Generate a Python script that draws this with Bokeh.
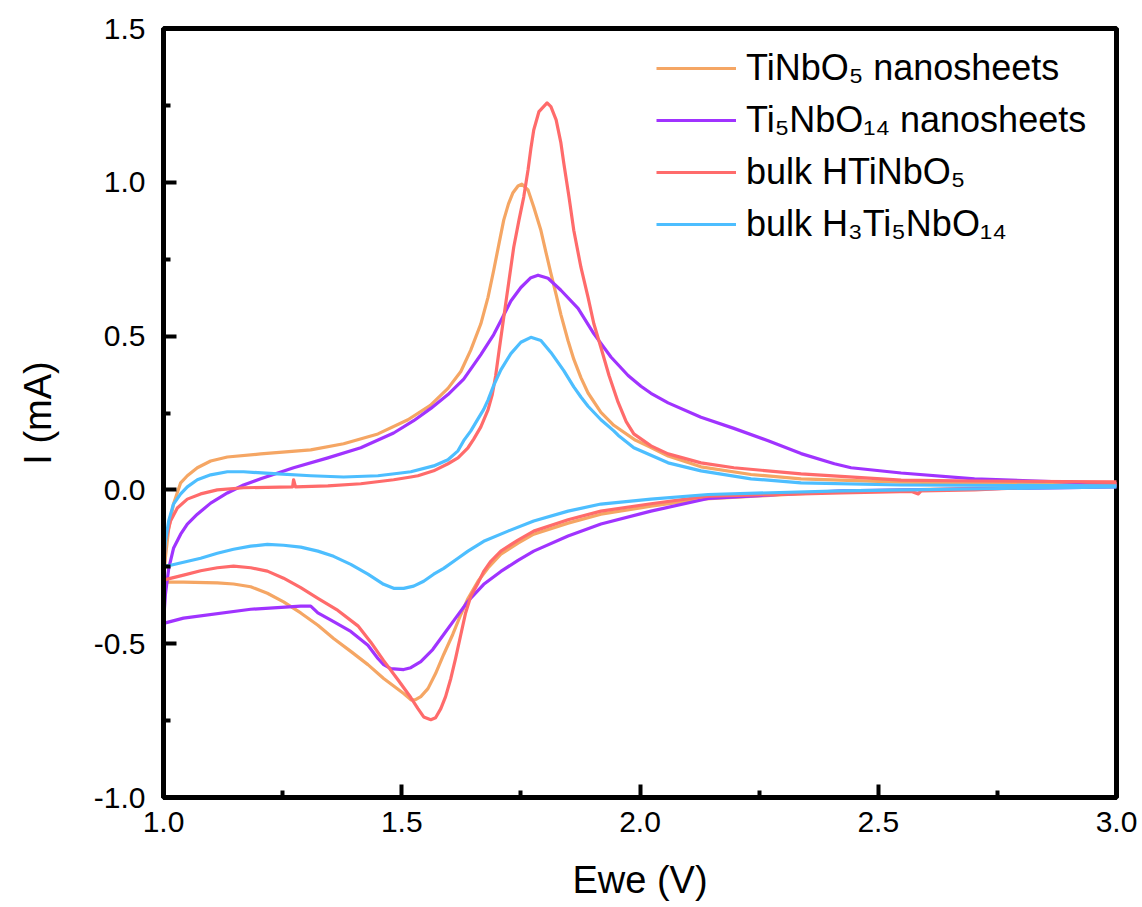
from bokeh.plotting import figure
from bokeh.models import Range1d, FixedTicker, PrintfTickFormatter, Legend, LegendItem
from bokeh.embed import file_html
from bokeh.resources import INLINE

# ---- data ----
# TiNbO5 nanosheets: anodic (forward) and cathodic (reverse) sweeps
tinbo5_an_v = [1.000, 1.004, 1.011, 1.021, 1.036, 1.050, 1.071, 1.099, 1.134, 1.204, 1.309, 1.378, 1.450,
               1.513, 1.560, 1.597, 1.624, 1.645, 1.666, 1.681, 1.693, 1.704, 1.714, 1.724, 1.733, 1.744,
               1.752, 1.765, 1.777, 1.792, 1.803, 1.813, 1.824, 1.834, 1.849, 1.861, 1.876, 1.891, 1.918,
               1.945, 1.990, 2.020, 2.059, 2.128, 2.233, 2.338, 2.548, 2.800, 3.000]
tinbo5_an_i = [-0.300, -0.220, -0.124, -0.046, 0.023, 0.046, 0.072, 0.094, 0.107, 0.117, 0.130, 0.150, 0.182,
               0.228, 0.275, 0.330, 0.385, 0.455, 0.540, 0.626, 0.714, 0.800, 0.877, 0.930, 0.965, 0.988,
               0.994, 0.975, 0.920, 0.844, 0.770, 0.704, 0.635, 0.570, 0.485, 0.425, 0.365, 0.315, 0.252,
               0.210, 0.162, 0.140, 0.110, 0.075, 0.050, 0.036, 0.025, 0.021, 0.020]
tinbo5_ca_v = [3.000, 2.700, 2.422, 2.128, 2.023, 1.918, 1.849, 1.777, 1.744, 1.708, 1.681, 1.660, 1.639,
               1.624, 1.607, 1.588, 1.571, 1.555, 1.540, 1.529, 1.520, 1.504, 1.462, 1.429, 1.393, 1.357,
               1.324, 1.288, 1.252, 1.218, 1.183, 1.147, 1.113, 1.042, 1.000]
tinbo5_ca_i = [0.015, 0.005, -0.005, -0.030, -0.053, -0.079, -0.108, -0.144, -0.173, -0.209, -0.254, -0.297,
               -0.353, -0.405, -0.470, -0.535, -0.597, -0.646, -0.672, -0.682, -0.683, -0.662, -0.613, -0.568,
               -0.525, -0.483, -0.440, -0.400, -0.364, -0.336, -0.315, -0.306, -0.302, -0.300, -0.300]

# Ti5NbO14 nanosheets
ti5nbo14_an_v = [1.000, 1.004, 1.011, 1.021, 1.036, 1.050, 1.071, 1.099, 1.134, 1.168, 1.204, 1.273, 1.345,
                 1.414, 1.483, 1.525, 1.561, 1.597, 1.630, 1.666, 1.693, 1.708, 1.729, 1.750, 1.771, 1.786,
                 1.807, 1.834, 1.870, 1.903, 1.939, 1.975, 2.002, 2.023, 2.059, 2.128, 2.197, 2.269, 2.338,
                 2.408, 2.443, 2.548, 2.702, 3.000]
ti5nbo14_an_i = [-0.431, -0.340, -0.255, -0.190, -0.144, -0.111, -0.079, -0.043, -0.010, 0.016, 0.036, 0.072,
                 0.104, 0.137, 0.185, 0.225, 0.265, 0.310, 0.360, 0.440, 0.505, 0.550, 0.614, 0.658, 0.690,
                 0.698, 0.688, 0.649, 0.590, 0.508, 0.432, 0.372, 0.337, 0.314, 0.283, 0.236, 0.200, 0.160,
                 0.118, 0.085, 0.072, 0.055, 0.036, 0.020]
ti5nbo14_ca_v = [3.000, 2.422, 2.143, 2.023, 1.918, 1.849, 1.777, 1.744, 1.708, 1.672, 1.639, 1.613, 1.588,
                 1.565, 1.540, 1.519, 1.504, 1.477, 1.462, 1.450, 1.429, 1.393, 1.357, 1.324, 1.309, 1.288,
                 1.183, 1.042, 1.000]
ti5nbo14_ca_i = [0.010, -0.003, -0.028, -0.069, -0.111, -0.150, -0.199, -0.229, -0.265, -0.307, -0.362, -0.417,
                 -0.470, -0.519, -0.558, -0.578, -0.584, -0.581, -0.568, -0.548, -0.505, -0.460, -0.428, -0.400,
                 -0.378, -0.378, -0.388, -0.417, -0.434]

# bulk HTiNbO5
htinbo5_an_v = [1.000, 1.000, 1.004, 1.015, 1.029, 1.050, 1.078, 1.113, 1.168, 1.271, 1.273, 1.277, 1.345,
                1.414, 1.483, 1.519, 1.534, 1.567, 1.597, 1.618, 1.639, 1.651, 1.666, 1.681, 1.690, 1.697,
                1.704, 1.714, 1.725, 1.735, 1.746, 1.756, 1.765, 1.771, 1.777, 1.788, 1.805, 1.813, 1.824,
                1.834, 1.840, 1.851, 1.861, 1.876, 1.891, 1.903, 1.918, 1.935, 1.954, 1.971, 1.987, 2.023,
                2.059, 2.128, 2.197, 2.338, 2.548, 2.702, 3.000]
htinbo5_an_i = [-0.294, -0.255, -0.167, -0.100, -0.059, -0.030, -0.013, 0.000, 0.007, 0.010, 0.033, 0.010,
                0.013, 0.020, 0.033, 0.042, 0.046, 0.062, 0.085, 0.104, 0.137, 0.165, 0.205, 0.260, 0.310,
                0.370, 0.450, 0.560, 0.680, 0.789, 0.877, 0.952, 1.040, 1.110, 1.170, 1.230, 1.258, 1.246,
                1.203, 1.128, 1.063, 0.952, 0.844, 0.724, 0.626, 0.541, 0.463, 0.372, 0.285, 0.222, 0.182,
                0.143, 0.117, 0.088, 0.072, 0.052, 0.032, 0.029, 0.026]
htinbo5_ca_v = [3.000, 2.702, 2.590, 2.584, 2.570, 2.422, 2.143, 2.023, 1.918, 1.849, 1.777, 1.744, 1.708,
                1.687, 1.672, 1.660, 1.645, 1.634, 1.624, 1.613, 1.603, 1.592, 1.582, 1.571, 1.561, 1.546,
                1.534, 1.519, 1.492, 1.462, 1.435, 1.408, 1.366, 1.324, 1.288, 1.252, 1.218, 1.183, 1.147,
                1.113, 1.078, 1.042, 1.008, 1.000]
htinbo5_ca_i = [0.020, 0.000, -0.003, -0.013, -0.005, -0.010, -0.020, -0.045, -0.069, -0.097, -0.134, -0.163,
                -0.199, -0.232, -0.265, -0.303, -0.345, -0.400, -0.470, -0.548, -0.613, -0.672, -0.711, -0.741,
                -0.747, -0.738, -0.711, -0.675, -0.617, -0.555, -0.495, -0.442, -0.392, -0.353, -0.318, -0.287,
                -0.264, -0.253, -0.248, -0.253, -0.263, -0.277, -0.290, -0.294]

# bulk H3Ti5NbO14
h3ti5nbo14_an_v = [1.000, 1.004, 1.011, 1.021, 1.036, 1.050, 1.071, 1.099, 1.134, 1.168, 1.240, 1.309, 1.378,
                   1.450, 1.498, 1.519, 1.567, 1.597, 1.618, 1.630, 1.645, 1.660, 1.672, 1.681, 1.693, 1.708,
                   1.729, 1.750, 1.771, 1.792, 1.813, 1.840, 1.861, 1.876, 1.891, 1.918, 1.945, 1.954, 1.987,
                   2.059, 2.128, 2.233, 2.338, 2.548, 3.000]
h3ti5nbo14_an_i = [-0.248, -0.167, -0.100, -0.046, -0.013, 0.010, 0.033, 0.049, 0.059, 0.059, 0.052, 0.046,
                   0.042, 0.046, 0.055, 0.059, 0.078, 0.098, 0.127, 0.160, 0.192, 0.231, 0.262, 0.292, 0.340,
                   0.390, 0.443, 0.480, 0.496, 0.486, 0.447, 0.388, 0.335, 0.302, 0.272, 0.228, 0.192, 0.178,
                   0.137, 0.088, 0.062, 0.036, 0.023, 0.016, 0.013]
h3ti5nbo14_ca_v = [3.000, 2.422, 2.143, 2.023, 1.918, 1.849, 1.777, 1.723, 1.672, 1.639, 1.618, 1.588, 1.567,
                   1.546, 1.525, 1.504, 1.483, 1.462, 1.429, 1.393, 1.357, 1.324, 1.288, 1.252, 1.218, 1.183,
                   1.147, 1.113, 1.078, 1.042, 1.015, 1.000]
h3ti5nbo14_ca_i = [0.010, -0.003, -0.015, -0.030, -0.046, -0.069, -0.101, -0.134, -0.167, -0.199, -0.222, -0.255,
                   -0.274, -0.297, -0.313, -0.320, -0.320, -0.307, -0.274, -0.242, -0.216, -0.199, -0.186, -0.180,
                   -0.177, -0.183, -0.193, -0.206, -0.222, -0.235, -0.245, -0.248]

labels = ["TiNbO\u2085 nanosheets", "Ti\u2085NbO\u2081\u2084 nanosheets", "bulk HTiNbO\u2085",
          "bulk H\u2083Ti\u2085NbO\u2081\u2084"]
colors = ["#F5A664", "#A033FF", "#FF6B6B", "#4DBEFF"]

x_ticks = [1.0, 1.5, 2.0, 2.5, 3.0]
x_minor = [1.25, 1.75, 2.25, 2.75]
y_ticks = [-1.0, -0.5, 0.0, 0.5, 1.0, 1.5]
y_minor = [-0.75, -0.25, 0.25, 0.75, 1.25]

series = [
    (tinbo5_an_v + tinbo5_ca_v, tinbo5_an_i + tinbo5_ca_i),
    (ti5nbo14_an_v + ti5nbo14_ca_v, ti5nbo14_an_i + ti5nbo14_ca_i),
    (htinbo5_an_v + htinbo5_ca_v, htinbo5_an_i + htinbo5_ca_i),
    (h3ti5nbo14_an_v + h3ti5nbo14_ca_v, h3ti5nbo14_an_i + h3ti5nbo14_ca_i),
]

FONT = "Liberation Sans"

p = figure(width=1142, height=907, output_backend="svg", toolbar_location=None,
           x_range=Range1d(1.0, 3.0), y_range=Range1d(-1.0, 1.5),
           min_border_left=163, min_border_right=26, min_border_top=28, min_border_bottom=110)
p.grid.visible = False
p.background_fill_color = "white"
p.border_fill_color = "white"
p.outline_line_color = "black"
p.outline_line_width = 5

p.xaxis.ticker = FixedTicker(ticks=x_ticks, minor_ticks=x_minor)
p.yaxis.ticker = FixedTicker(ticks=y_ticks, minor_ticks=y_minor)
for ax in (p.xaxis[0], p.yaxis[0]):
    ax.formatter = PrintfTickFormatter(format="%.1f")
    ax.axis_line_width = 5
    ax.axis_line_color = "black"
    ax.major_tick_in = 13
    ax.major_tick_out = 0
    ax.minor_tick_in = 7
    ax.minor_tick_out = 0
    ax.major_tick_line_width = 4
    ax.minor_tick_line_width = 4
    ax.major_tick_line_color = "black"
    ax.minor_tick_line_color = "black"
    ax.major_label_text_font = FONT
    ax.major_label_text_font_size = "30px"
    ax.major_label_text_color = "black"
    ax.axis_label_text_font = FONT
    ax.axis_label_text_font_size = "38px"
    ax.axis_label_text_font_style = "normal"
    ax.axis_label_text_color = "black"

p.xaxis.axis_label = "Ewe (V)"
p.yaxis.axis_label = "I (mA)"
p.xaxis.major_label_standoff = 14
p.yaxis.major_label_standoff = 18
p.xaxis.axis_label_standoff = 24
p.yaxis.axis_label_standoff = 32

items = []
for (vx, iy), lab, col in zip(series, labels, colors):
    r = p.line(vx, iy, line_color=col, line_width=3.2, line_join="round")
    items.append(LegendItem(label=lab, renderers=[r]))

legend = Legend(items=items, location=(493, 552))
legend.border_line_color = None
legend.background_fill_alpha = 0
legend.label_text_font = FONT
legend.label_text_font_size = "36px"
legend.label_text_color = "black"
legend.glyph_width = 80
legend.glyph_height = 30
legend.label_standoff = 10
legend.spacing = 10
legend.padding = 0
legend.margin = 0
p.add_layout(legend)

open("out.html", "w").write(file_html(p, INLINE))
